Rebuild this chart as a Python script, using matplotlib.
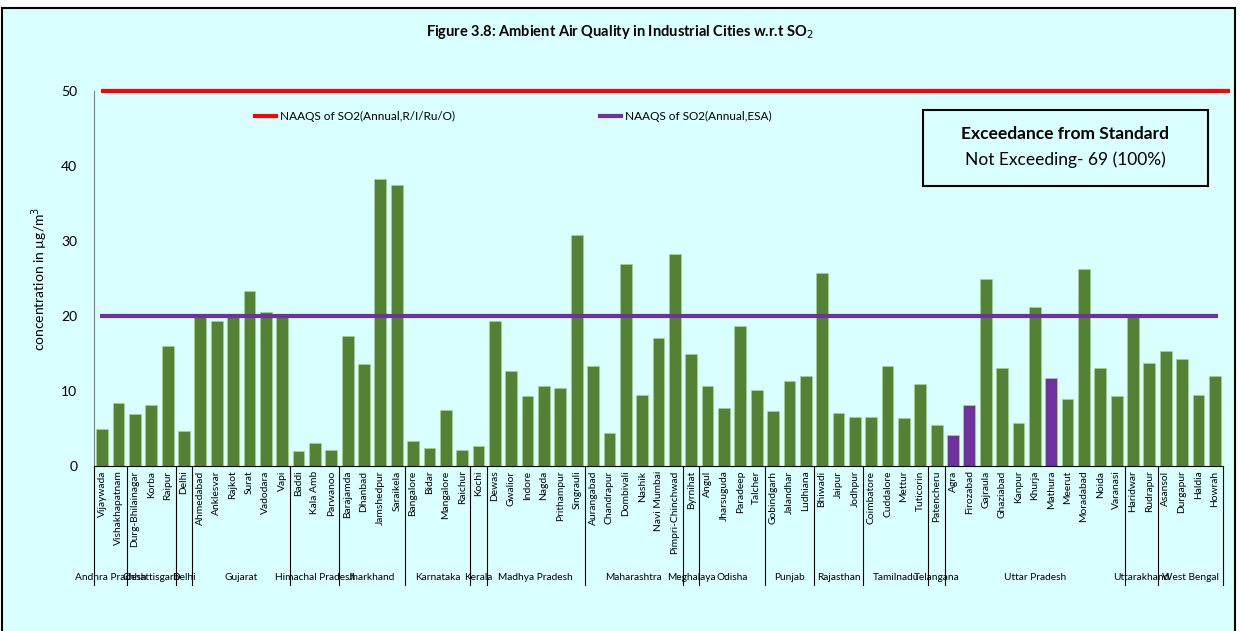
import numpy as np
import matplotlib
matplotlib.use('Agg')
import matplotlib.pyplot as plt
from matplotlib.patches import Rectangle
from matplotlib.lines import Line2D
import matplotlib.transforms as mtransforms

plt.rcParams['font.family'] = ['Lato', 'DejaVu Sans']

# data (annual mean SO2, ug/m3)
states = ['Andhra Pradesh', 'Chhattisgarh', 'Delhi', 'Gujarat', 'Himachal Pradesh',
          'Jharkhand', 'Karnataka', 'Kerala', 'Madhya Pradesh', 'Maharashtra',
          'Meghalaya', 'Odisha', 'Punjab', 'Rajasthan', 'Tamilnadu', 'Telangana',
          'Uttar Pradesh', 'Uttarakhand', 'West Bengal']
state_counts = [2, 3, 1, 6, 3, 4, 4, 1, 6, 6, 1, 4, 3, 3, 4, 1, 11, 2, 4]

cities = ['Vijaywada', 'Vishakhapatnam',
          'Durg-Bhilainagar', 'Korba', 'Raipur',
          'Delhi',
          'Ahmedabad', 'Anklesvar', 'Rajkot', 'Surat', 'Vadodara', 'Vapi',
          'Baddi', 'Kala Amb', 'Parwanoo',
          'Barajamda', 'Dhanbad', 'Jamshedpur', 'Saraikela',
          'Bangalore', 'Bidar', 'Mangalore', 'Raichur',
          'Kochi',
          'Dewas', 'Gwalior', 'Indore', 'Nagda', 'Prithampur', 'Singrauli',
          'Aurangabad', 'Chandrapur', 'Dombivali', 'Nashik', 'Navi Mumbai', 'Pimpri-Chinchwad',
          'Byrnihat',
          'Angul', 'Jharsuguda', 'Paradeep', 'Talcher',
          'Gobindgarh', 'Jalandhar', 'Ludhiana',
          'Bhiwadi', 'Jaipur', 'Jodhpur',
          'Coimbatore', 'Cuddalore', 'Mettur', 'Tuticorin',
          'Patencheru',
          'Agra', 'Firozabad', 'Gajraula', 'Ghaziabad', 'Kanpur', 'Khurja', 'Mathura',
          'Meerut', 'Moradabad', 'Noida', 'Varanasi',
          'Haridwar', 'Rudrapur',
          'Asansol', 'Durgapur', 'Haldia', 'Howrah']

so2 = [4.9, 8.4,
       6.9, 8.2, 16.0,
       4.7,
       20.0, 19.4, 20.0, 23.4, 20.5, 20.0,
       2.0, 3.1, 2.2,
       17.4, 13.6, 38.3, 37.5,
       3.3, 2.4, 7.5, 2.2,
       2.7,
       19.4, 12.7, 9.3, 10.7, 10.4, 30.8,
       13.3, 4.4, 27.0, 9.5, 17.1, 28.3,
       14.9,
       10.7, 7.8, 18.7, 10.2,
       7.3, 11.3, 12.0,
       25.8, 7.1, 6.6,
       6.6, 13.3, 6.4, 10.9,
       5.5,
       4.2, 8.2, 25.0, 13.1, 5.8, 21.2, 11.8,
       8.9, 26.3, 13.1, 9.3,
       19.9, 13.8,
       15.4, 14.3, 9.5, 12.0]

esa_cities = ['Agra', 'Firozabad', 'Mathura']
limit_general = 50
limit_esa = 20

green = '#548235'
purple = '#7030A0'
bg = '#D9FFFF'

fig = plt.figure(figsize=(12.4, 6.31), dpi=100)
fig.patch.set_facecolor('white')
fig.patches.append(Rectangle((0.002, -0.01), 0.994, 0.998, transform=fig.transFigure,
                             facecolor=bg, edgecolor='black', linewidth=1.5, zorder=-10))

ax = fig.add_axes([94 / 1240, 1 - 466 / 631, 1129 / 1240, 375 / 631])
ax.set_facecolor('none')

x = np.arange(len(cities))
colors = [purple if c in esa_cities else green for c in cities]
ax.bar(x, so2, width=0.72, color=colors, edgecolor='#A9D08E', linewidth=0.5, zorder=2)

ax.hlines(limit_general, -0.1, len(cities) - 0.1, color='#FF0000', linewidth=3, clip_on=False, zorder=3)
ax.hlines(limit_esa, -0.15, len(cities) - 0.8, color=purple, linewidth=3, clip_on=False, zorder=3)

ax.set_xlim(-0.5, len(cities) - 0.5)
ax.set_ylim(0, 50)
ax.set_yticks(range(0, 51, 10))
ax.tick_params(axis='y', length=0, labelsize=10, pad=12)
ax.set_xticks([])
for s in ['top', 'right']:
    ax.spines[s].set_visible(False)
ax.spines['left'].set_color('#808080')
ax.spines['bottom'].set_color('black')
ax.set_ylabel('concentration in µg/m$^3$', fontsize=10, labelpad=8)

# city labels, vertical, under each bar
trans = mtransforms.blended_transform_factory(ax.transData, ax.transAxes)
for i, c in enumerate(cities):
    ax.text(i, -0.012, c, rotation=90, ha='center', va='top', fontsize=7.4,
            transform=trans, clip_on=False)

# state group separators and names
bounds = np.concatenate([[0], np.cumsum(state_counts)]) - 0.5
for b in bounds:
    ax.add_line(Line2D([b, b], [0, -0.317], transform=trans, color='black',
                       linewidth=0.8, clip_on=False))
for k, st in enumerate(states):
    mid = (bounds[k] + bounds[k + 1]) / 2
    ax.text(mid, -0.298, st, ha='center', va='center', fontsize=7.3,
            transform=trans, clip_on=False)

handles = [Line2D([], [], color='#FF0000', linewidth=3),
           Line2D([], [], color=purple, linewidth=3)]
ax.legend(handles, ['NAAQS of SO2(Annual,R/I/Ru/O)', 'NAAQS of SO2(Annual,ESA)'],
          ncol=2, frameon=False, fontsize=8.5, handlelength=1.8, handletextpad=0.3,
          columnspacing=12.3, loc='center left', bbox_to_anchor=(0.133, 0.933))

# exceedance box
fig.patches.append(Rectangle((923 / 1240, 1 - 186 / 631), 285 / 1240, 76 / 631,
                             transform=fig.transFigure, facecolor='none',
                             edgecolor='black', linewidth=1.5))
fig.text(1065 / 1240, 1 - 134 / 631, 'Exceedance from Standard', ha='center', va='center',
         fontsize=12.5, fontweight='bold')
fig.text(1065 / 1240, 1 - 160 / 631, 'Not Exceeding- 69 (100%)', ha='center', va='center',
         fontsize=12.5)

fig.text(0.5, 1 - 32 / 631, 'Figure 3.8: Ambient Air Quality in Industrial Cities w.r.t SO$_2$',
         ha='center', va='center', fontsize=10.5, fontweight='bold')

fig.savefig('out.png', dpi=100, facecolor=fig.get_facecolor())
